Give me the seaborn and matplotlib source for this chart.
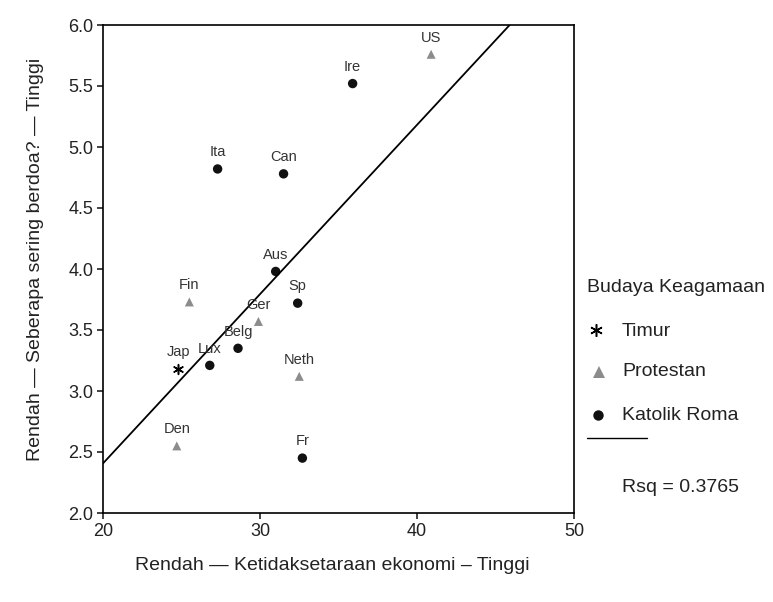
import matplotlib
matplotlib.use("Agg")
import matplotlib.pyplot as plt
from matplotlib.lines import Line2D
import numpy as np
import pandas as pd
import seaborn as sns

# ---- data ----
countries = ["US", "Ire", "Ita", "Can", "Aus", "Fin", "Sp", "Ger", "Belg",
             "Lux", "Jap", "Neth", "Den", "Fr"]
inequality = [40.9, 35.9, 27.3, 31.5, 31.0, 25.5, 32.4, 29.9, 28.6,
              26.8, 24.8, 32.5, 24.7, 32.7]
prayer = [5.76, 5.52, 4.82, 4.78, 3.98, 3.73, 3.72, 3.57, 3.35,
          3.21, 3.18, 3.12, 2.55, 2.45]
culture = ["Protestan", "Katolik Roma", "Katolik Roma", "Katolik Roma", "Katolik Roma",
           "Protestan", "Katolik Roma", "Protestan", "Katolik Roma",
           "Katolik Roma", "Timur", "Protestan", "Protestan", "Katolik Roma"]
groups = ["Timur", "Protestan", "Katolik Roma"]
rsq_text = "Rsq = 0.3765"
x_ticks = [20, 30, 40, 50]
y_ticks = [2.0, 2.5, 3.0, 3.5, 4.0, 4.5, 5.0, 5.5, 6.0]

df = pd.DataFrame({"country": countries, "x": inequality, "y": prayer, "budaya": culture})

sns.set_theme(style="white")
plt.rcParams["font.family"] = ["Liberation Sans", "DejaVu Sans"]

fig = plt.figure(figsize=(7.73, 6.02), dpi=100)
ax = fig.add_axes([103/773, 1-513/602, (574-103)/773, (513-25)/602])

styles = {
    "Timur": dict(marker=(6, 2, 0), s=50, color="black", linewidths=1.1),
    "Protestan": dict(marker="^", s=42, color="#8c8c8c", edgecolor="none"),
    "Katolik Roma": dict(marker="o", s=46, color="#111111", edgecolor="none"),
}
for g in groups:
    sub = df[df["budaya"] == g]
    sns.scatterplot(data=sub, x="x", y="y", ax=ax, legend=False, **styles[g])

ax.set_xlim(20, 50)
ax.set_ylim(2.0, 6.0)
sns.regplot(data=df, x="x", y="y", ax=ax, scatter=False, ci=None, truncate=False,
            line_kws=dict(color="black", lw=1.3))
ax.set_xlim(20, 50)
ax.set_ylim(2.0, 6.0)

for _, r in df.iterrows():
    ax.annotate(r["country"], (r["x"], r["y"]), xytext=(0, 7), textcoords="offset points",
                ha="center", va="bottom", fontsize=10.5, color="#333333")

ax.set_xticks(x_ticks)
ax.set_yticks(y_ticks)
ax.set_xticklabels([str(t) for t in x_ticks])
ax.set_yticklabels([f"{t:.1f}" for t in y_ticks])
ax.tick_params(axis="both", which="both", direction="out", length=4, width=1.2,
               labelsize=13, colors="#222222", left=True, bottom=True, pad=3)
for sp in ax.spines.values():
    sp.set_visible(True)
    sp.set_color("black")
    sp.set_linewidth(1.2)

ax.set_xlabel("Rendah \u2014 Ketidaksetaraan ekonomi \u2013 Tinggi", fontsize=14, color="#222222")
ax.set_ylabel("Rendah \u2014 Seberapa sering berdoa? \u2014 Tinggi", fontsize=14, color="#222222")
ax.xaxis.set_label_coords((332-103)/471, -0.107)
ax.yaxis.set_label_coords((36-103)/471, 0.52)
ax.xaxis.label.set_va("center")
ax.yaxis.label.set_va("center")

# ---- legend (manual, right side) ----
def fx(px):
    return px / 773
def fy(py):
    return 1 - py / 602

fig.text(fx(587), fy(287), "Budaya Keagamaan", fontsize=14, va="center", ha="left", color="#222222")
legend_rows = [(groups[0], 331), (groups[1], 372), (groups[2], 415)]
for g, py in legend_rows:
    if g == "Timur":
        h = Line2D([fx(596)], [fy(py - 1)], marker=(6, 2, 0), markersize=9, color="black",
                   markeredgewidth=1.1, linestyle="none", transform=fig.transFigure)
    elif g == "Protestan":
        h = Line2D([fx(599)], [fy(py)], marker="^", markersize=9, color="#8c8c8c",
                   markeredgewidth=0, linestyle="none", transform=fig.transFigure)
    else:
        h = Line2D([fx(598)], [fy(py)], marker="o", markersize=7.5, color="#111111",
                   markeredgewidth=0, linestyle="none", transform=fig.transFigure)
    fig.add_artist(h)
    fig.text(fx(622), fy(py), g, fontsize=14, va="center", ha="left", color="#222222")

fig.add_artist(Line2D([fx(587), fx(647)], [fy(438), fy(438)], color="black", lw=1.0,
                      transform=fig.transFigure))
fig.text(fx(622), fy(487), rsq_text, fontsize=14, va="center", ha="left", color="#222222")

fig.savefig("out.png", dpi=100, facecolor="white")
